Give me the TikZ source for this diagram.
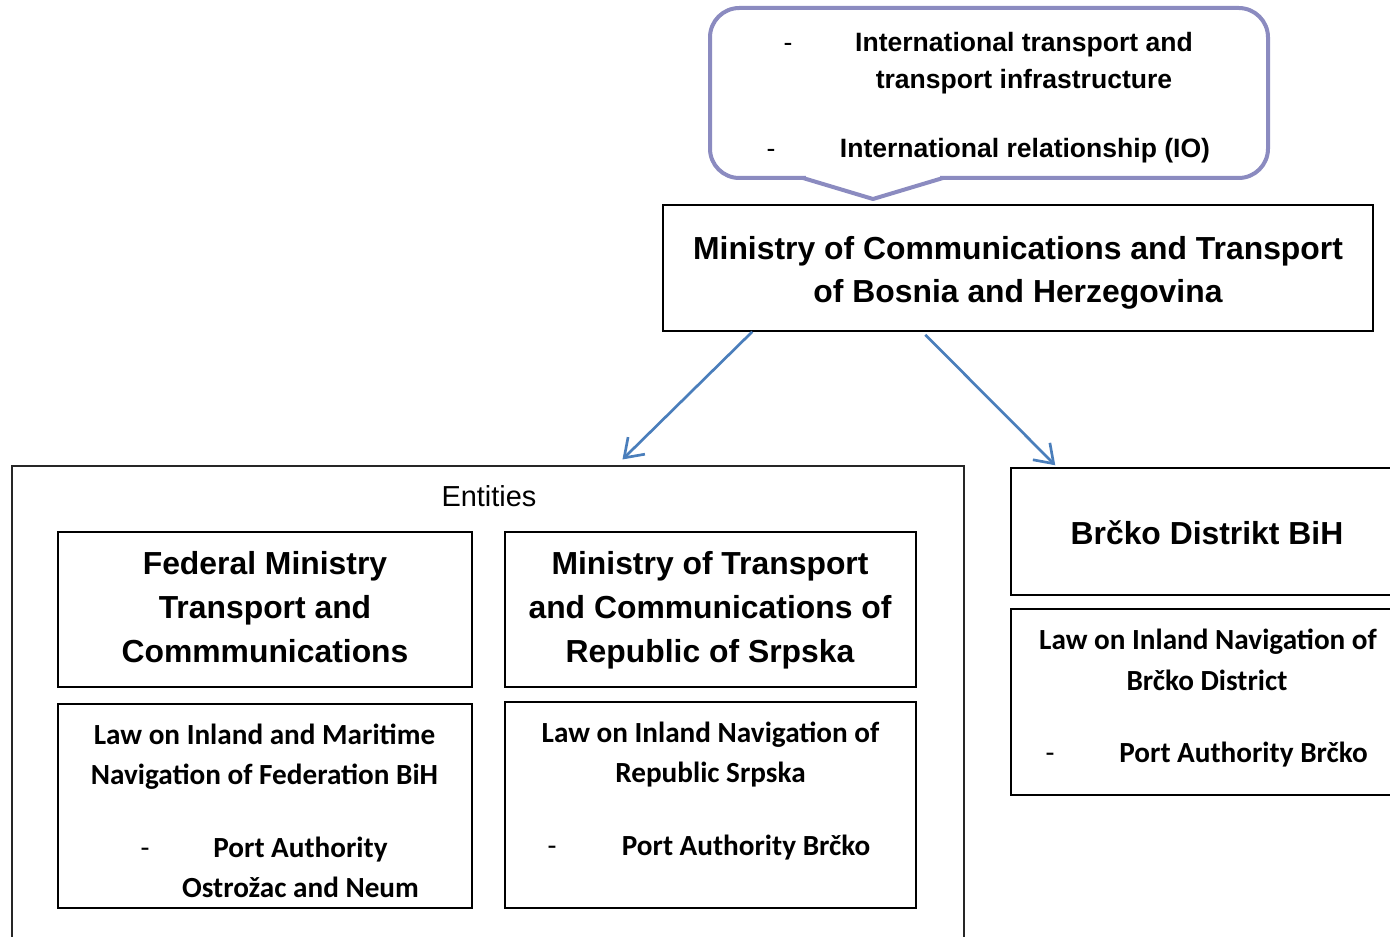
\documentclass[tikz,border=0pt]{standalone}
\usepackage{fontspec}
\setmainfont{Liberation Sans}
\newfontfamily\calfont{Carlito}
\usetikzlibrary{arrows.meta,fit,calc}
\definecolor{calloutline}{RGB}{139,139,192}
\definecolor{arrowblue}{RGB}{74,126,187}
\tikzset{
  box/.style={draw=black, line width=1.1pt, inner sep=0pt},
  titletxt/.style={font=\fontsize{23.9pt}{28pt}\selectfont\bfseries, inner sep=0pt, text height=17pt, text depth=0pt},
  callouttxt/.style={font=\fontsize{19.9pt}{24pt}\selectfont\bfseries, inner sep=0pt, text height=14.2pt, text depth=0pt},
  dashtxt/.style={font=\fontsize{19.9pt}{24pt}\selectfont, inner sep=0pt, text height=14.2pt, text depth=0pt},
  lawtxt/.style={font=\calfont\fontsize{21.9pt}{26pt}\selectfont\bfseries, inner sep=0pt, text height=14pt, text depth=0pt},
  lawdash/.style={font=\calfont\fontsize{21.9pt}{26pt}\selectfont, inner sep=0pt, text height=14pt, text depth=0pt},
  enttxt/.style={font=\fontsize{21.7pt}{26pt}\selectfont, inner sep=0pt, text height=15.5pt, text depth=0pt},
  link/.style={draw=arrowblue, line width=2pt, -{Straight Barb[length=13pt,width=18pt]}},
}
\begin{document}
\begin{tikzpicture}[x=0.75pt,y=-0.75pt]
\useasboundingbox (0,0) rectangle (1390,937);
\clip (0,0) rectangle (1390,937);
\fill[white] (0,0) rectangle (1390,937);

% callout
\node[draw=calloutline, line width=3pt, rounded corners=22pt, inner sep=0pt, fit={(710,8)(1268,178)}] (callout) {};
\fill[white] (806,173) rectangle (940,183);
\draw[calloutline, line width=3pt, line join=round] (803,178) -- (873,199) -- (943,178);
\node[dashtxt] (c1d) at (788,42) {-};
\node[callouttxt] (c1) at (1024,42) {International transport and};
\node[callouttxt] (c2) at (1024,79) {transport infrastructure};
\node[dashtxt] (c3d) at (771,148) {-};
\node[callouttxt] (c3) at (1025,148) {International relationship (IO)};

% title
\node[box, fit={(663,205)(1373,331)}] (title) {};
\node[titletxt] (t1) at (1018,248) {Ministry of Communications and Transport};
\node[titletxt] (t2) at (1018,291.5) {of Bosnia and Herzegovina};

% entities
\node[draw=black!85, line width=0.8pt, inner sep=0pt, fit={(12,466)(964,960)}] (ent) {};
\node[enttxt] (entl) at (489,496) {Entities};

\node[box, fit={(58,532)(472,687)}] (fed) {};
\node[titletxt] (f1) at (265,563) {Federal Ministry};
\node[titletxt] (f2) at (265,607) {Transport and};
\node[titletxt] (f3) at (265,651) {Commmunications};

\node[box, fit={(505,532)(916,687)}] (rs) {};
\node[titletxt] (r1) at (710,563) {Ministry of Transport};
\node[titletxt] (r2) at (710,607) {and Communications of};
\node[titletxt] (r3) at (710,651) {Republic of Srpska};

\node[box, fit={(58,704)(472,908)}] (lawfed) {};
\node[lawtxt] (lf1) at (264.5,735) {Law on Inland and Maritime};
\node[lawtxt] (lf2) at (264.5,775) {Navigation of Federation BiH};
\node[lawdash] (lfd) at (145,848) {-};
\node[lawtxt] (lf3) at (300.5,848) {Port Authority};
\node[lawtxt] (lf4) at (300.5,888) {Ostrožac and Neum};

\node[box, fit={(505,702)(916,908)}] (lawrs) {};
\node[lawtxt] (lr1) at (710.5,733) {Law on Inland Navigation of};
\node[lawtxt] (lr2) at (710.5,773) {Republic Srpska};
\node[lawdash] (lrd) at (552,846) {-};
\node[lawtxt] (lr3) at (746,846) {Port Authority Brčko};

% Brcko
\node[box, fit={(1011,468)(1400,595)}] (brcko) {};
\node[titletxt] (b1) at (1207,533) {Brčko Distrikt BiH};

\node[box, fit={(1011,609)(1400,795)}] (lawb) {};
\node[lawtxt] (lb1) at (1208,640) {Law on Inland Navigation of};
\node[lawtxt] (lb2) at (1207,681) {Brčko District};
\node[lawdash] (lbd) at (1050,753) {-};
\node[lawtxt] (lb3) at (1243.5,753) {Port Authority Brčko};

% connectors
\draw[link] ($(title.south west)+(90,0)$) -- ($(ent.north west)+(611,-6)$);
\draw[link] ($(title.south west)+(263,3)$) -- ($(brcko.north west)+(45,-2)$);
\end{tikzpicture}
\end{document}
